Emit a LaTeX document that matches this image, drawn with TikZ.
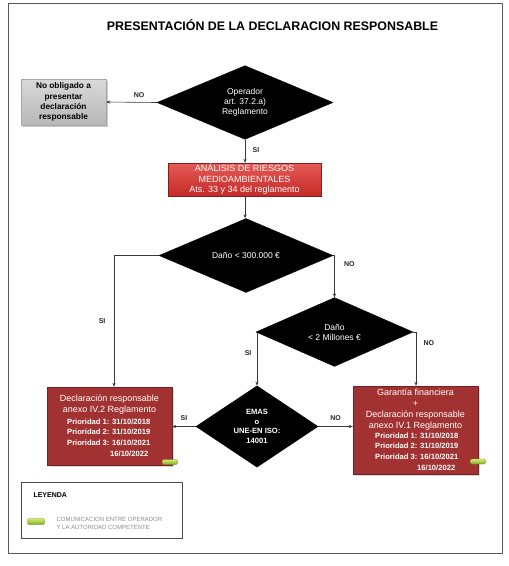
\documentclass[tikz,border=0pt]{standalone}
\usepackage{fontspec}
\setmainfont{Liberation Sans}
\usetikzlibrary{shapes.geometric,arrows.meta,calc}
\definecolor{darkred}{HTML}{A23232}
\definecolor{redtop}{HTML}{E55A55}
\definecolor{redbot}{HTML}{C42A28}
\definecolor{linegray}{HTML}{3A3A3A}
\definecolor{greenA}{HTML}{D4EC70}
\definecolor{greenB}{HTML}{7FAE1E}
\tikzset{
  dec/.style={diamond, fill=black, draw=black, inner sep=0pt, aspect=1, text=white, align=center, font=\fontsize{8.5}{10}\selectfont},
  darkbox/.style={rectangle, fill=darkred, draw=darkred!70!black, line width=0.4pt, text=white, align=center, inner sep=0pt},
  conn/.style={draw=linegray, line width=0.6pt, -{Stealth[length=4pt,width=3.2pt]}},
  lab/.style={font=\fontsize{7}{8}\selectfont\bfseries, text=black!85},
  prio/.style={font=\fontsize{7.6}{10.6}\selectfont\bfseries},
  boxtext/.style={text=white, align=center, font=\fontsize{9}{11}\selectfont, inner sep=0pt},
  greenicon/.style={rectangle, rounded corners=1.2pt, minimum width=15pt, minimum height=5pt, inner sep=0pt, top color=greenA, bottom color=greenB, draw=greenB!80!black, line width=0.2pt},
}
\begin{document}
\begin{tikzpicture}[x=1pt,y=-1pt]
\useasboundingbox (0,0) rectangle (509,566);
\fill[white] (0,0) rectangle (509,566);
% outer frame
\draw[draw=black!65, line width=1pt] (8,3) rectangle (502,553);
% title
\node (title) at (272.5,25) {\fontsize{12.4}{14}\selectfont\bfseries PRESENTACIÓN DE LA DECLARACION RESPONSABLE};
% grey box
\fill[black!20] (23,81) rectangle (108,127);
\node (grey) [rectangle, draw=black!35, minimum width=85pt, minimum height=46pt, inner sep=0pt, align=center, font=\fontsize{8.3}{10.3}\selectfont\bfseries, top color=black!15, bottom color=black!28] at (63.5,102) {No obligado a\\presentar\\declaración\\responsable};
% diamond 1
\node (d1) [dec, minimum width=176pt, minimum height=61pt] at (245,102.5) {Operador\\art. 37.2.a)\\Reglamento};
% red analysis box
\node (red1) [rectangle, top color=redtop, bottom color=redbot, draw=redbot!70!black, line width=0.4pt, minimum width=153pt, minimum height=33pt, inner sep=0pt, text=white, align=center, font=\fontsize{9}{10.5}\selectfont] at (244.5,179.5) {ANÁLISIS DE RIESGOS\\MEDIOAMBIENTALES\\Ats. 33 y 34 del reglamento};
% diamond 2
\node (d2) [dec, minimum width=174pt, minimum height=57pt] at (246,255.5) {Daño < 300.000 €};
% diamond 3
\node (d3) [dec, minimum width=157pt, minimum height=46pt] at (334.5,332) {Daño\\< 2 Millones €};
% EMAS diamond
\node (emas) [dec, minimum width=122pt, minimum height=55pt, font=\fontsize{7.6}{9.7}\selectfont\bfseries] at (257,426.5) {EMAS\\o\\UNE-EN ISO:\\14001};
% left box
\fill[black!15] (49,389) rectangle (174,467);
\node (lb) [darkbox, minimum width=125pt, minimum height=78pt] at (109.5,426) {};
\node (lbt) [boxtext] at (109.5,404.5) {Declaración responsable\\anexo IV.2 Reglamento};
\node (lbp) [text=white, align=left, prio, anchor=north west, inner sep=0pt] at (67,418.5) {Prioridad 1: 31/10/2018\\Prioridad 2: 31/10/2019\\Prioridad 3: 16/10/2021\\\hspace*{43pt}16/10/2022};
% right box
\fill[black!15] (355,388) rectangle (480,476);
\node (rb) [darkbox, minimum width=125pt, minimum height=88pt] at (415.5,430) {};
\node (rbt) [boxtext] at (415.5,409.5) {Garantía financiera\\+\\Declaración responsable\\anexo IV.1 Reglamento};
\node (rbp) [text=white, align=left, prio, anchor=north west, inner sep=0pt] at (375,432.5) {Prioridad 1: 31/10/2018\\Prioridad 2: 31/10/2019\\Prioridad 3: 16/10/2021\\\hspace*{42pt}16/10/2022};
% green icons
\node (g1) [greenicon] at (170,462) {};
\node (g2) [greenicon] at (478,461.5) {};
% connectors
\draw[conn] (d1.west) -- node[lab, above=1pt, pos=0.35] {NO} (grey.east);
\draw[conn] (d1.south) -- node[lab, right=4pt, pos=0.45] {SI} (d1.south |- red1.north);
\draw[conn] (red1.south -| d1.south) -- (d1.south |- d2.north);
\coordinate (lbtop) at ($(lb.north)+(4.5,0)$);
\draw[conn] (d2.west) -| node[lab, pos=0.75, left=5pt] {SI} (lbtop);
\draw[conn] (d2.east) -| node[lab, pos=0.6, right=6pt] {NO} (d3.north);
\draw[conn] (d3.west) -| node[lab, pos=0.7, left=2pt] {SI} (emas.north);
\coordinate (rbtop) at ($(rb.north)+(0.5,0)$);
\draw[conn] (d3.east) -| node[lab, pos=0.6, right=4pt] {NO} (rbtop);
\draw[conn] (emas.west) -- node[lab, above=2pt] {SI} (lb.east |- emas.west);
\draw[conn] (emas.east) -- node[lab, above=2pt] {NO} (rb.west |- emas.east);
% legend
\node (leg) [rectangle, draw=black!70, line width=0.8pt, minimum width=161pt, minimum height=56pt, inner sep=0pt] at (101.5,510) {};
\node (legt) [anchor=west, font=\fontsize{7}{8}\selectfont\bfseries] at (30,495) {LEYENDA};
\node (g3) [greenicon, minimum width=17pt, minimum height=6pt] at (36,521.5) {};
\node (legtxt) [anchor=west, align=left, text=black!45, font=\fontsize{6}{8}\selectfont] at (53,523) {COMUNICACION ENTRE OPERADOR\\Y LA AUTORIDAD COMPETENTE};
\end{tikzpicture}
\end{document}
